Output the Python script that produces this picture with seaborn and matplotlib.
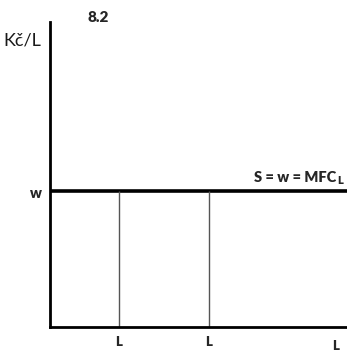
import numpy as np
import matplotlib
matplotlib.use("Agg")
import matplotlib.pyplot as plt
import seaborn as sns

# data (axis units 0-100)
mzda = 44.6                      # w
l_body = [23.2, 53.5]            # two L positions
l_popisky = ["L", "L"]
x_linie = [0, 100]
y_linie = [mzda, mzda]

sns.set_style("white")
plt.rcParams['font.family'] = ['Lato', 'DejaVu Sans']

fig = plt.figure(figsize=(3.47, 3.54), dpi=100)
ax = fig.add_axes([50/347, 1-327/354, 297/347, 305/354])

# S = w = MFC_L
sns.lineplot(x=x_linie, y=y_linie, ax=ax, color='black', linewidth=2.6)
ax.vlines(l_body, 0, mzda, color='#555555', linewidth=1)

ax.set_xlim(0, 100)
ax.set_ylim(0, 100)
ax.set_xticks([])
ax.set_yticks([])
for s in ['top', 'right']:
    ax.spines[s].set_visible(False)
for s in ['left', 'bottom']:
    ax.spines[s].set_color('black')
    ax.spines[s].set_linewidth(2)

# popisky
fig.text(3/347, 1-41/354, "Kč/L", fontsize=13, va='center', ha='left', color='#1a1a1a')
fig.text(88/347, 1-17/354, "8.2", fontsize=11, fontweight='heavy', va='center', ha='left')
fig.text(36/347, 1-193/354, "w", fontsize=10.5, fontweight='heavy', va='center', ha='center')
fig.text(336/347, 1-178/354, "S = w = MFC", fontsize=10.5, fontweight='heavy', va='center', ha='right')
fig.text(337/347, 1-180/354, "L", fontsize=8, fontweight='heavy', va='center', ha='left')

for xp, lab in zip(l_body, l_popisky):
    ax.text(xp, -4.9, lab, fontsize=9.5, fontweight='heavy', ha='center', va='center',
            transform=ax.transData, clip_on=False)
ax.text(96.3, -6.3, "L", fontsize=9.5, fontweight='heavy', ha='center', va='center', clip_on=False)

fig.savefig("out.png", dpi=100)
